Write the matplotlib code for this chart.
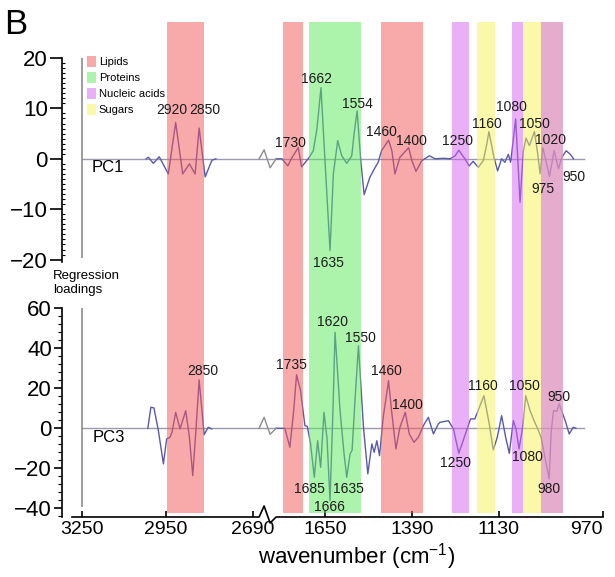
import numpy as np
import matplotlib
matplotlib.use('Agg')
import matplotlib.pyplot as plt
from matplotlib.patches import Patch
from matplotlib.ticker import MultipleLocator

plt.rcParams['font.family'] = ['Liberation Sans', 'DejaVu Sans']
plt.rcParams['mathtext.fontset'] = 'custom'
plt.rcParams['mathtext.rm'] = 'Liberation Sans'
plt.rcParams['mathtext.it'] = 'Liberation Sans:italic'

FIG_W, FIG_H, DPI = 615, 577, 100

# broken wavenumber axis: anchor wavenumbers -> axis position
AXIS_WN = np.array([3400, 3250, 2950, 2690, 1840, 1650, 1130, 700])
AXIS_POS = np.array([40.2, 82.0, 165.6, 252.7, 261.4, 325.0, 499.0, 642.9])
X_LEFT, X_RIGHT = 3322, 819
BREAK_WN = 1823
BASE_END = 876

TICK_WN = [3250, 2950, 2690, 1650, 1390, 1130]
TICK_LABELS = ['3250', '2950', '2690', '1650', '1390', '1130', '970']

# spectral assignment bands
BAND_CLASSES = ['Lipids', 'Proteins', 'Nucleic acids', 'Sugars']
BAND_COLORS = ['#F35757', '#5BEB5B', '#D561F1', '#F5F555']
BAND_HI = [2945, 1775, 1482, 1698, 1196, 1058, 1270, 1091, 1004]
BAND_LO = [2835, 1716, 1357, 1542, 1142, 938, 1220, 1058, 938]
BAND_KIND = [0, 0, 0, 1, 3, 3, 2, 2, 2]

# PC1 loadings
PC1_CH_WN = [3020, 3012, 2994, 2973, 2942, 2920, 2899, 2879, 2862, 2850, 2832, 2812, 2800]
PC1_CH = [0, 0.3, -0.9, 0.4, -3.0, 7.2, -3.0, -1.0, -3.0, 6.1, -3.6, -0.3, 0]
PC1_FP_WN = [1796, 1779, 1761, 1749, 1730, 1720, 1710, 1697, 1685, 1674,
             1662, 1650, 1635, 1625, 1612, 1600, 1585, 1570, 1563, 1554,
             1543, 1533, 1516, 1500, 1491, 1481, 1460, 1450, 1441, 1426,
             1400, 1390, 1378, 1361, 1338, 1321, 1296, 1276, 1261, 1250,
             1232, 1219, 1207, 1192, 1177, 1166, 1160, 1145, 1134, 1122,
             1112, 1102, 1095, 1080, 1067, 1057, 1049, 1039, 1024, 1014,
             1007, 999, 992, 979, 965, 952, 942, 929, 917, 907]
PC1_FP = [0, 0, -1.4, 0.2, 2.2, -1.6, -0.8, 0.3, 1.6, 6.0,
          14.1, -0.4, -18.2, -3.0, 3.6, 0.6, -0.9, 0.6, 5.0, 9.5,
          -0.4, -7.1, -3.7, -1.7, -0.7, 1.6, 3.7, 1.6, -3.0, 0.3,
          2.2, -0.4, -2.5, -0.4, 0.6, 0.0, 0.1, 0.0, 0.6, 1.7,
          0.0, -1.4, -0.5, -1.7, -0.4, 3.0, 5.4, 0.3, -2.4, 0.0,
          -0.7, 0.9, -0.7, 7.9, -8.6, 1.6, 4.1, 2.6, 5.4, 0.9,
          -3.0, 2.2, 0.3, -3.5, 1.6, -2.0, 0.3, 1.6, 0.9, 0.0]

# PC3 loadings
PC3_CH_WN = [3014, 3003, 2992, 2976, 2958, 2947, 2937, 2931, 2920, 2907,
             2890, 2879, 2869, 2859, 2850, 2835, 2823, 2812]
PC3_CH = [0, 10.5, 10.2, -1.2, -17.8, -5.3, -4.5, -2.0, 8.0, -0.3,
          8.8, -4.5, -23.7, 0.5, 24.2, -3.2, 0.5, -0.3]
PC3_FP_WN = [1796, 1770, 1755, 1744, 1735, 1723, 1710, 1703, 1693, 1682,
             1672, 1663, 1653, 1644, 1635, 1626, 1620, 1605, 1593, 1585,
             1575, 1569, 1560, 1550, 1535, 1522, 1510, 1503, 1495, 1487,
             1476, 1460, 1451, 1438, 1426, 1410, 1398, 1384, 1371, 1356,
             1341, 1326, 1311, 1306, 1281, 1266, 1250, 1232, 1215, 1202,
             1175, 1159, 1147, 1135, 1122, 1110, 1099, 1087, 1079, 1070,
             1059, 1050, 1037, 1025, 1014, 1004, 980, 974, 967, 957,
             950, 932, 920, 908, 900]
PC3_FP = [0, 0, -9.5, 8.0, 26.8, 18.8, 1.3, 1.0, -7.8, -24.5,
          -6.2, -19.5, 8.0, -5.0, -36.2, 10.0, 48.0, 8.8, -12.8, -24.5,
          -12.8, -11.0, 15.0, 41.3, 0.5, -22.8, -7.8, -12.0, -6.2, -13.7,
          5.5, 23.8, 8.8, -10.3, 0.5, 8.0, -2.8, -7.0, -4.5, 1.3,
          5.5, -2.8, 2.2, 3.0, 3.8, -0.3, -12.5, -3.7, 4.7, 4.7,
          16.3, 2.2, -10.8, -4.5, 6.3, -4.5, -12.5, 3.8, -0.3, -10.3,
          0.5, 16.3, 8.8, 3.8, -0.3, -4.5, -25.3, -2.0, 8.8, 8.5,
          12.2, 3.8, -2.8, 0.5, 0]

# peak annotations: text, position (wavenumber), height
PC1_LABELS = ['2920', '2850', '1730', '1662', '1554', '1635', '1460', '1400',
              '1250', '1160', '1080', '1050', '1020', '975', '950']
PC1_LABEL_WN = [2931, 2832, 1752, 1674, 1554, 1640, 1480, 1393,
                1255, 1166, 1094, 1025, 975, 998, 905]
PC1_LABEL_Y = [9.6, 9.6, 3.2, 15.9, 10.9, -20.6, 5.4, 3.6,
               3.6, 7.0, 10.2, 7.0, 3.8, -5.9, -3.7]
PC3_LABELS = ['2850', '1735', '1620', '1550', '1460', '1400', '1685', '1666',
              '1635', '1250', '1160', '1050', '1080', '950', '980']
PC3_LABEL_WN = [2838, 1749, 1629, 1545, 1467, 1405, 1695, 1638,
                1581, 1261, 1179, 1053, 1044, 950, 980]
PC3_LABEL_Y = [28.6, 31.6, 53.2, 45.2, 28.6, 11.6, -30.4, -39.4,
               -30.4, -17.4, 21.2, 21.2, -14.4, 15.6, -30.4]

LINE_COLOR = '#5A5AAA'
BASE_COLOR = '#9A9AAE'
ZIG_DX = np.array([-8, -3, 3, 9])


# the scale runs negative so that it increases with wavenumber;
# the limits below then put high wavenumbers on the left
def wn_to_pos(wn):
    return -np.interp(-np.asarray(wn, float), -AXIS_WN, AXIS_POS)


def pos_to_wn(pos):
    return np.interp(-np.asarray(pos, float), AXIS_POS, AXIS_WN)


def box(top, bottom, left=62, right=603):
    return [left / FIG_W, 1 - bottom / FIG_H, (right - left) / FIG_W, (bottom - top) / FIG_H]


def px_per_unit(ax):
    y0, y1 = ax.get_ylim()
    return ax.bbox.height / (y1 - y0)


def shift_wn(wn, dx):
    # move dx axis units to the right of wavenumber wn
    return pos_to_wn(wn_to_pos(wn) - np.asarray(dx, float))


def break_mark(ax, dy_px, y=0.0, **kw):
    xs = shift_wn(BREAK_WN, ZIG_DX)
    ys = y + np.asarray(dy_px) / px_per_unit(ax)
    ax.plot(xs, ys, **kw)


def draw_panel(ax, segments, ylim, yticks, minor, major_len, minor_dir, minor_len, vline):
    ax.set_ylim(*ylim)
    ax.plot([3250, BASE_END], [0, 0], color=BASE_COLOR, lw=1.0, zorder=1)
    ax.vlines(3250, vline[0], vline[1], color='#8C8C8C', lw=1.2)
    for wn, val in segments:
        ax.plot(wn, val, color=LINE_COLOR, lw=1.0, zorder=2)
    ax.set_yticks(yticks)
    ax.yaxis.set_minor_locator(MultipleLocator(minor))
    ax.tick_params(axis='y', which='major', direction='out', length=major_len,
                   width=1.2, labelsize=16, pad=1.5)
    ax.tick_params(axis='y', which='minor', direction=minor_dir, length=minor_len, width=0.8)
    ax.spines['left'].set_linewidth(1.2)


fig = plt.figure(figsize=(FIG_W / DPI, FIG_H / DPI), dpi=DPI)
ax1 = fig.add_axes(box(58, 261.6))
ax3 = fig.add_axes(box(308.3, 517))
axb = fig.add_axes(box(21.7, 513))

for ax in (ax1, ax3, axb):
    ax.set_xscale('function', functions=(wn_to_pos, pos_to_wn))
    ax.set_xlim(X_LEFT, X_RIGHT)
    ax.patch.set_alpha(0)
    for s in ('top', 'right', 'bottom'):
        ax.spines[s].set_visible(False)

draw_panel(ax1, [(PC1_CH_WN, PC1_CH), (PC1_FP_WN, PC1_FP)], (-20.4, 20),
           [-20, -10, 0, 10, 20], 1, 8.6, 'in', 2.5, (-19.7, 20))
draw_panel(ax3, [(PC3_CH_WN, PC3_CH), (PC3_FP_WN, PC3_FP)], (-44.35, 60),
           [-40, -20, 0, 20, 40, 60], 4, 5.8, 'out', 3.2, (-39.6, 60))
ax1.set_xticks([])

break_mark(ax1, [0, 9, -9, 0], color='#8C8C8C', lw=1.0, zorder=2)
break_mark(ax3, [0, 11, -6, 0], color='#8C8C8C', lw=1.0, zorder=2)

# x axis with its own break; the last tick sits at the axis end
ax3.set_xticks(TICK_WN + [X_RIGHT], TICK_LABELS)
ax3.tick_params(axis='x', direction='in', length=4, width=1.2, labelsize=14, pad=3)
ax3.get_xticklabels()[-1].set_horizontalalignment('right')
y_axis = ax3.get_ylim()[0]
axis_x = np.concatenate([[shift_wn(X_LEFT, 10)], shift_wn(BREAK_WN, [-8, -3, 3, 9]), [X_RIGHT]])
ax3.plot(axis_x, y_axis + np.array([0, 0, 11, -6, 0, 0]) / px_per_unit(ax3),
         color='black', lw=1.2, clip_on=False, zorder=5)

# translucent bands laid over the loadings
axb.set_ylim(0, 1)
axb.axis('off')
axb.set_zorder(3)
for hi, lo, k in zip(BAND_HI, BAND_LO, BAND_KIND):
    axb.axvspan(hi, lo, color=BAND_COLORS[k], alpha=0.5, lw=0, zorder=1)

for ax, labels, xs, ys in ((ax1, PC1_LABELS, PC1_LABEL_WN, PC1_LABEL_Y),
                           (ax3, PC3_LABELS, PC3_LABEL_WN, PC3_LABEL_Y)):
    for s, x, y in zip(labels, xs, ys):
        axb.text(x, y, s, transform=ax.transData, ha='center', va='center',
                 fontsize=10, color='#1A1A1A', zorder=4)

ax1.text(3157, -1.7, 'PC1', ha='center', va='center', fontsize=12)
ax3.text(3153, -4.4, 'PC3', ha='center', va='center', fontsize=12)

handles = [Patch(facecolor=c, alpha=0.5, edgecolor='none') for c in BAND_COLORS]
ax1.legend(handles, BAND_CLASSES, loc='upper left', bbox_to_anchor=(87 / FIG_W, 1 - 56 / FIG_H),
           bbox_transform=fig.transFigure, frameon=False, fontsize=8,
           handlelength=0.8, handleheight=1.1, handletextpad=0.25,
           labelspacing=0.45, borderpad=0, borderaxespad=0)

fig.text(4 / FIG_W, 1 - 24 / FIG_H, 'B', fontsize=25, ha='left', va='center')
fig.text(53 / FIG_W, 1 - 283 / FIG_H, 'Regression\nloadings', fontsize=9.5,
         ha='left', va='center', linespacing=1.2)
fig.text(357 / FIG_W, 1 - 557 / FIG_H, 'wavenumber (cm$^{-1}$)', fontsize=16,
         ha='center', va='center')

fig.savefig('out.png', dpi=DPI)
